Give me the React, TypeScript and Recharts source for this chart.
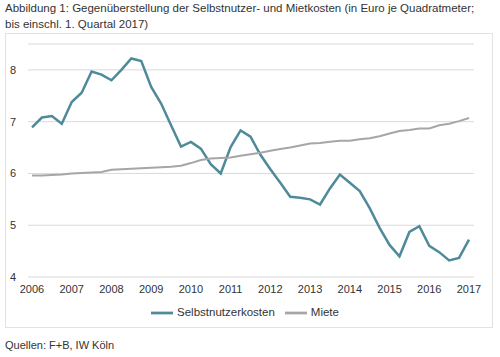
import { LineChart, Line, XAxis, YAxis, CartesianGrid, Legend } from 'recharts'

const YEARS = ['2006', '2007', '2008', '2009', '2010', '2011', '2012', '2013', '2014', '2015', '2016', '2017']
const Y_TICKS = [4, 5, 6, 7, 8]

// quarterly values, 2006 Q1 .. 2017 Q1
const SELBST = [
  6.89, 7.08, 7.11, 6.96, 7.38, 7.56, 7.97, 7.91, 7.8, 8.0, 8.22, 8.17,
  7.67, 7.35, 6.93, 6.52, 6.61, 6.48, 6.18, 6.0, 6.51, 6.83, 6.71, 6.36,
  6.08, 5.82, 5.55, 5.53, 5.5, 5.4, 5.71, 5.98, 5.82, 5.66, 5.33, 4.95,
  4.62, 4.4, 4.87, 4.98, 4.6, 4.48, 4.32, 4.37, 4.72,
]
const MIETE = [
  5.96, 5.96, 5.97, 5.98, 6.0, 6.01, 6.02, 6.03, 6.07, 6.08, 6.09, 6.1,
  6.11, 6.12, 6.13, 6.15, 6.2, 6.26, 6.29, 6.3, 6.31, 6.34, 6.37, 6.4,
  6.44, 6.47, 6.5, 6.54, 6.58, 6.59, 6.61, 6.63, 6.63, 6.66, 6.68, 6.72,
  6.77, 6.82, 6.84, 6.87, 6.87, 6.93, 6.96, 7.01, 7.07,
]

const TEAL = '#4f8a9b', GREY = '#a6a6a6', TXT = '#333'
const FONT = '"Liberation Sans", Arial, sans-serif'
const ORDER = ['selbst', 'miete']

const quarters = YEARS.flatMap(y => ['Q1', 'Q2', 'Q3', 'Q4'].map(q => `${y} ${q}`)).slice(0, SELBST.length)
const data = quarters.map((q, i) => ({ q, selbst: SELBST[i], miete: MIETE[i] }))

export default function App() {
  return (
    <div style={{ position: 'absolute', left: 0, top: 0, width: 500, height: 357, background: '#fff', fontFamily: FONT, color: TXT }}>
      <div style={{ position: 'absolute', left: 5, top: 0, width: 490, fontSize: 11.5, lineHeight: '16px' }}>
        Abbildung 1: Gegenüberstellung der Selbstnutzer- und Mietkosten (in Euro je Quadratmeter;<br />
        bis einschl. 1. Quartal 2017)
      </div>
      <div style={{ position: 'absolute', left: 5, top: 33, width: 486, height: 293, border: '1px solid #e2e2e2' }} />
      <div style={{ position: 'absolute', left: 0, top: 0 }}>
        <LineChart width={500} height={357} data={data} margin={{ top: 44, right: 26, left: 8, bottom: 50 }}>
          <CartesianGrid vertical={false} stroke="#d9d9d9" />
          <XAxis dataKey="q" interval={3} tickFormatter={(q: string) => q.slice(0, 4)}
            axisLine={false} tickLine={false} tickSize={0} tickMargin={8} padding={{ left: 4, right: 5 }}
            tick={{ fontSize: 11, fill: TXT, fontFamily: FONT }} />
          <YAxis domain={[4, 8.5]} ticks={Y_TICKS} width={20} axisLine={false} tickLine={false}
            tickSize={0} tickMargin={12} tick={{ fontSize: 11, fill: TXT, fontFamily: FONT }} />
          <Legend verticalAlign="middle" iconType="plainline" iconSize={22}
            itemSorter={(e: any) => ORDER.indexOf(e.dataKey)}
            wrapperStyle={{ top: 302, left: 0, width: 500, fontSize: 11.5, fontFamily: FONT }}
            formatter={(v: string) => <span style={{ color: TXT }}>{v}</span>} />
          <Line type="linear" dataKey="selbst" name="Selbstnutzerkosten" stroke={TEAL} strokeWidth={2.5} dot={false} isAnimationActive={false} />
          <Line type="linear" dataKey="miete" name="Miete" stroke={GREY} strokeWidth={2} dot={false} isAnimationActive={false} />
        </LineChart>
      </div>
      <div style={{ position: 'absolute', left: 5, top: 339, fontSize: 11 }}>Quellen: F+B, IW Köln</div>
    </div>
  )
}
